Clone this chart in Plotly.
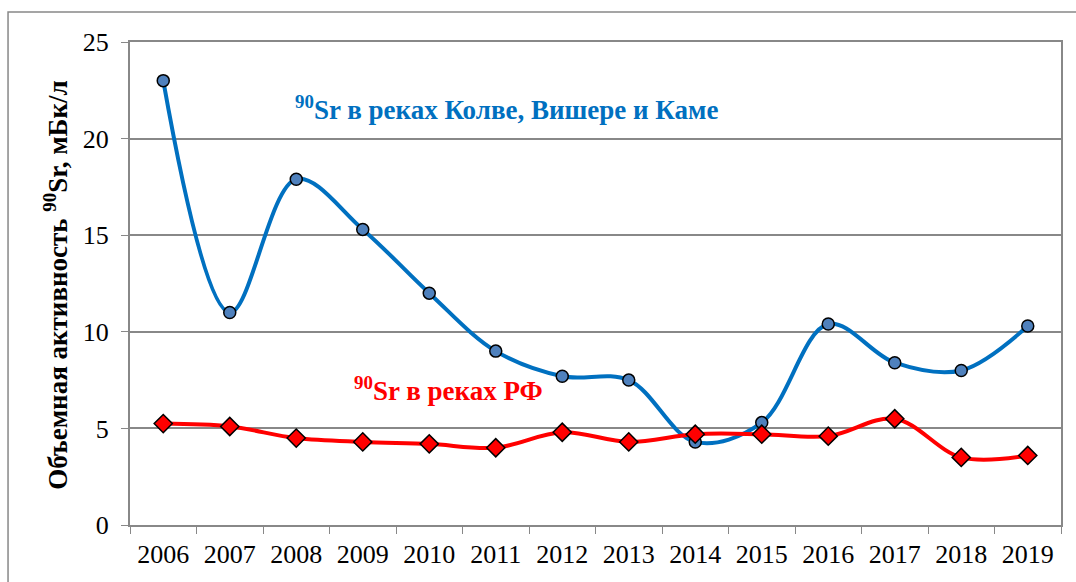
import plotly.graph_objects as go

years = ["2006", "2007", "2008", "2009", "2010", "2011", "2012",
         "2013", "2014", "2015", "2016", "2017", "2018", "2019"]
sr_kolva = [23.0, 11.0, 17.9, 15.3, 12.0, 9.0, 7.7, 7.5, 4.3, 5.3, 10.4, 8.4, 8.0, 10.3]
sr_rf = [5.25, 5.1, 4.5, 4.3, 4.2, 4.0, 4.8, 4.3, 4.7, 4.7, 4.6, 5.5, 3.5, 3.6]

label_kolva = "<sup>90</sup>Sr в реках Колве, Вишере и Каме"
label_rf = "<sup>90</sup>Sr в реках РФ"
y_title = "Объемная активность <sup>90</sup>Sr, мБк/л"

FONT = "Liberation Serif"

fig = go.Figure()
fig.add_trace(go.Scatter(
    x=years, y=sr_kolva, mode="lines+markers", name=label_kolva,
    line=dict(color="#0070C0", width=4, shape="spline", smoothing=1.0),
    marker=dict(symbol="circle", size=12, color="#4F81BD",
                line=dict(color="black", width=1.5)),
))
fig.add_trace(go.Scatter(
    x=years, y=sr_rf, mode="lines+markers", name=label_rf,
    line=dict(color="#FF0000", width=4, shape="spline", smoothing=1.0),
    marker=dict(symbol="diamond", size=14, color="#FF0000",
                line=dict(color="black", width=1.5)),
))

fig.update_layout(
    width=1076, height=582, autosize=False,
    margin=dict(l=130, r=15, t=42, b=57, autoexpand=False),
    paper_bgcolor="white", plot_bgcolor="white",
    showlegend=False,
    font=dict(family=FONT, color="black", size=26),
    xaxis=dict(
        type="category", range=[-0.5, len(years) - 0.5],
        tickson="boundaries", ticks="outside", ticklen=7,
        tickcolor="#888888", showline=True, linecolor="#888888", linewidth=2,
        mirror=True, showgrid=False, tickfont=dict(size=26, family=FONT),
        ticklabelstandoff=5, automargin=False,
    ),
    yaxis=dict(
        range=[0, 25], dtick=5, ticks="outside", ticklen=7,
        tickcolor="#888888", showline=True, linecolor="#888888", linewidth=2,
        mirror=True, showgrid=True, gridcolor="#888888", gridwidth=1.5,
        zeroline=False, tickfont=dict(size=26, family=FONT),
        ticklabelstandoff=7, automargin=False,
    ),
    annotations=[
        dict(text=y_title, xref="paper", yref="paper", x=-0.10, y=0.497,
             textangle=-90, showarrow=False,
             font=dict(family=FONT, size=27, color="black", weight="bold")),
        dict(text=label_kolva, xref="paper", yref="paper", x=0.404, y=0.902,
             showarrow=False,
             font=dict(family=FONT, size=27, color="#0070C0", weight="bold")),
        dict(text=label_rf, xref="paper", yref="paper", x=0.342, y=0.242,
             showarrow=False,
             font=dict(family=FONT, size=27, color="#FF0000", weight="bold")),
    ],
    shapes=[
        dict(type="rect", xref="paper", yref="paper",
             x0=-0.131, x1=1.05, y0=-0.14, y1=1.062,
             line=dict(color="#888888", width=1.5), fillcolor="rgba(0,0,0,0)"),
    ],
)

fig.write_html(
    "out.html",
    config={"responsive": False, "displayModeBar": False},
    post_script="document.body.style.margin='0';document.body.style.overflow='hidden';",
)
